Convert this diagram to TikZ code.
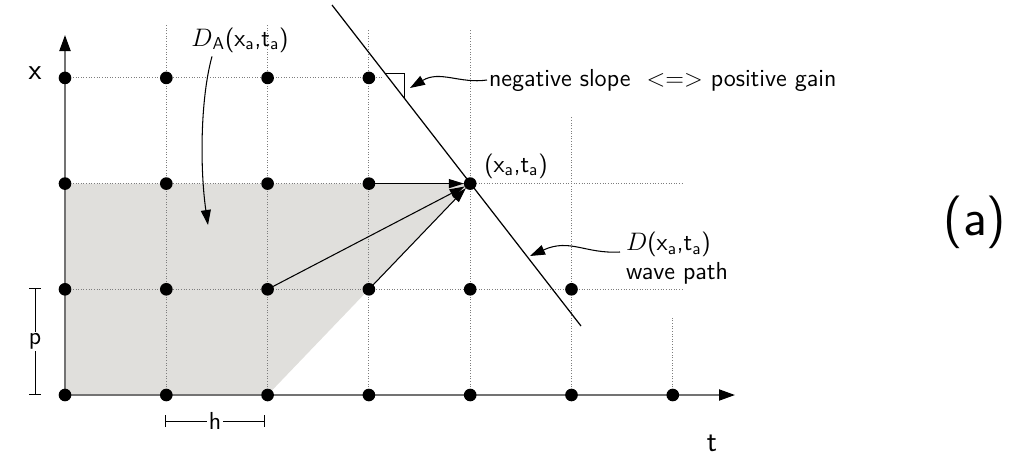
\documentclass[tikz,border=0pt]{standalone}
\usepackage{tikz}
\usetikzlibrary{arrows.meta, positioning, calc}
\usepackage{xcolor}
\definecolor{areagray}{RGB}{224,223,220}
\definecolor{gridgray}{RGB}{125,125,125}
\definecolor{axisgray}{RGB}{115,115,115}
\renewcommand{\familydefault}{\sfdefault}

\begin{document}
\begin{tikzpicture}[x=0.02cm, y=-0.02cm,
    gridline/.style={gridgray, densely dotted, line width=0.5pt},
    axis/.style={axisgray, line width=1.1pt, -{Triangle[length=3.2mm, width=2.2mm, black]}},
    flow/.style={black, line width=0.6pt, shorten <=2pt, shorten >=3.6pt, -{Triangle[length=3mm, width=1.8mm]}},
    note/.style={black, line width=0.6pt, -{Triangle[length=3mm, width=2mm]}},
    dim/.style={black, line width=0.5pt, {Bar[width=2.4mm]}-{Bar[width=2.4mm]}},
    lbl/.style={inner sep=1pt, font=\fontsize{14}{16.5}\selectfont},
    axlbl/.style={inner sep=1pt, font=\fontsize{17}{19}\selectfont}]
  \useasboundingbox (0,0) rectangle (1018,467);
  % Grid
  \foreach \i in {0,...,6} {
    \foreach \j in {0,...,3} {
      \coordinate (g\i\j) at ({65+101.3*\i},{395-105.7*\j});
    }
  }
  \fill[areagray] (g00) -- (g20) -- (g42) -- (g02) -- cycle;
  \foreach \i/\ytop in {1/25, 2/25, 3/30, 4/30, 5/117, 6/318} {
    \draw[gridline] (g\i0) -- ({65+101.3*\i},\ytop);
  }
  \draw[gridline] (g03) -- ++(317,0);
  \draw[gridline] (g02) -- ++(618,0);
  \draw[gridline] (g01) -- ++(618,0);
  % Axes
  \coordinate (tend) at (735,395);
  \coordinate (xend) at (65,35);
  \draw[axis] (g00) -- (tend);
  \draw[axis] (g00) -- (xend);
  % Wave path
  \coordinate (wtop) at (332,5);
  \coordinate (wbot) at (581,326);
  \draw[black, line width=0.7pt] (wtop) -- (wbot)
    coordinate[pos=0.212] (s1) coordinate[pos=0.29] (s2);
  \draw[black, line width=0.6pt] (s1) -| (s2);
  % Dependencies
  \foreach \a in {g21, g31, g32} {
    \draw[flow] (\a) -- (g42);
  }
  % Points
  \foreach \j/\n in {0/6, 1/5, 2/4, 3/3} {
    \foreach \i in {0,...,\n} {
      \fill (g\i\j) circle (3.6pt);
    }
  }
  % Labels
  \node[axlbl] (xlab) at (35,73) {x};
  \node[axlbl] (tlab) at (712,443) {t};
  \node[lbl] (dalab) at (240,40) {$D$\textsubscript{A}(x\textsubscript{a},t\textsubscript{a})};
  \node[lbl] (xtlab) at (516,166) {(x\textsubscript{a},t\textsubscript{a})};
  \node[lbl, anchor=west] (slope) at (487,80) {negative slope \ <=> positive gain};
  \node[lbl, anchor=north west, align=left] (wave) at (624,230) {$D$(x\textsubscript{a},t\textsubscript{a})\\wave path};
  \node[font=\fontsize{30}{32}\selectfont] (panel) at (975,222) {(a)};
  % Notes
  \draw[note] (slope.west) .. controls (460,84) and (440,70) .. (410,88);
  \draw[note] ($(dalab.south)+(-28,2)$) .. controls (200,100) and (200,170) .. (208,225);
  \draw[note] ($(wave.north west)+(-4,22)$) .. controls (585,254) and (570,238) .. (530,256);
  % Step sizes
  \coordinate (ptop) at (35,288);
  \coordinate (pbot) at (35,395);
  \draw[dim] (ptop) -- (pbot) node[midway, fill=white, lbl] {p};
  \coordinate (hl) at (165,421);
  \coordinate (hr) at (265,421);
  \draw[dim] (hl) -- (hr) node[midway, fill=white, lbl] {h};
\end{tikzpicture}
\end{document}
